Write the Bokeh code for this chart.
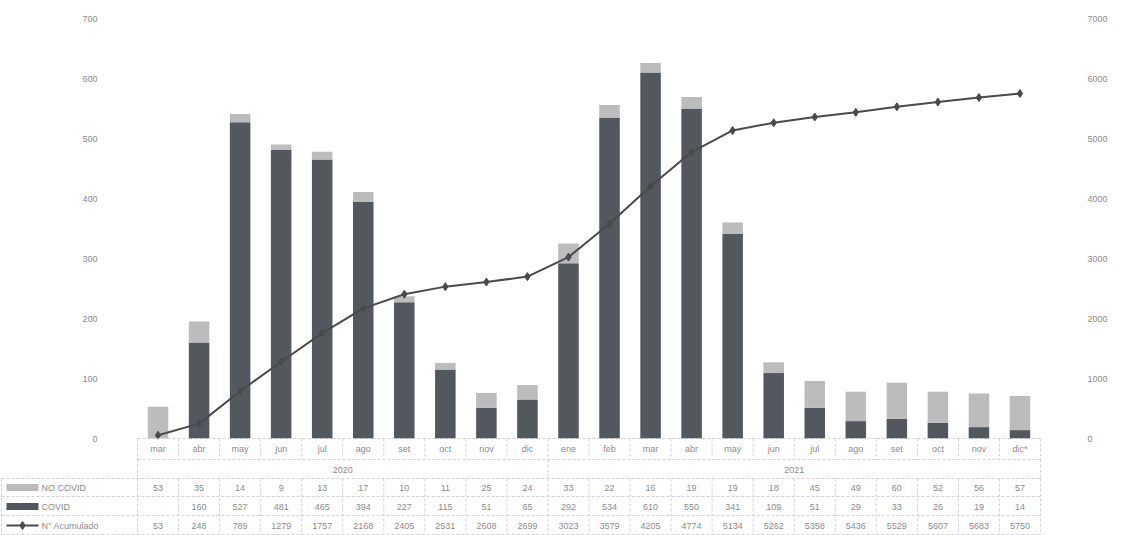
from bokeh.plotting import figure
from bokeh.models import (ColumnDataSource, Range1d, LinearAxis, FixedTicker)
from bokeh.embed import file_html
from bokeh.resources import INLINE
from bokeh.core.properties import value

# ---------------- data ----------------
months = ["mar", "abr", "may", "jun", "jul", "ago", "set", "oct", "nov", "dic",
          "ene", "feb", "mar", "abr", "may", "jun", "jul", "ago", "set", "oct", "nov", "dic*"]
years = ["2020", "2021"]
year_counts = [10, 12]
no_covid = [53, 35, 14, 9, 13, 17, 10, 11, 25, 24,
            33, 22, 16, 19, 19, 18, 45, 49, 60, 52, 56, 57]
covid = [0, 160, 527, 481, 465, 394, 227, 115, 51, 65,
         292, 534, 610, 550, 341, 109, 51, 29, 33, 26, 19, 14]
acumulado = [53, 248, 789, 1279, 1757, 2168, 2405, 2531, 2608, 2699,
             3023, 3579, 4205, 4774, 5134, 5262, 5358, 5436, 5529, 5607, 5683, 5750]
series_names = ["NO COVID", "COVID", "N° Acumulado"]
left_ticks = [0, 100, 200, 300, 400, 500, 600, 700]
right_ticks = [0, 1000, 2000, 3000, 4000, 5000, 6000, 7000]

# ---------------- layout ----------------
W, H = 1115, 535
TBL_L, TBL_R = 137, 1040             # page px of category area
TOP_Y = 18                           # page px (value 700)
ZERO_Y = 438                         # page px (value 0)
PX_PER_UNIT = (ZERO_Y - TOP_Y) / left_ticks[-1]
y_min = -(H - ZERO_Y) / PX_PER_UNIT
y_max = ZERO_Y / PX_PER_UNIT
scale2 = right_ticks[-1] / left_ticks[-1]
n = len(months)
CW = (TBL_R - TBL_L) / n

def yu(py):  # page px -> left axis units
    return (ZERO_Y - py) / PX_PER_UNIT

def xu(px):  # page px -> x units
    return (px - TBL_L) / CW

xs = [i + 0.5 for i in range(n)]

TXT = "#8c8c8c"
LINE = "#d2d2d2"
DARK = "#52585d"
LIGHT = "#bcbcbc"
LC = "#4a4a4a"
FONT = "Liberation Sans"

p = figure(width=W, height=H, output_backend="svg", toolbar_location=None,
           x_range=Range1d(xu(0), xu(W)), y_range=Range1d(y_min, y_max),
           x_axis_location=None,
           min_border_left=0, min_border_right=0,
           min_border_top=0, min_border_bottom=0)
p.outline_line_color = None
p.xgrid.visible = False
p.ygrid.visible = False
p.background_fill_color = "white"

# left axis, pinned at the left edge of the category area
ya = p.yaxis[0]
ya.fixed_location = 0
ya.ticker = FixedTicker(ticks=left_ticks)
ya.axis_line_color = None
ya.major_tick_line_color = None
ya.minor_tick_line_color = None
ya.major_label_standoff = 34
ya.major_label_text_color = TXT
ya.major_label_text_font = FONT
ya.major_label_text_font_size = "9px"

# right axis
p.extra_y_ranges = {"acc": Range1d(y_min * scale2, y_max * scale2)}
ra = LinearAxis(y_range_name="acc", ticker=FixedTicker(ticks=right_ticks))
ra.fixed_location = n
ra.axis_line_color = None
ra.major_tick_line_color = None
ra.minor_tick_line_color = None
ra.major_label_standoff = 41
ra.major_label_text_color = TXT
ra.major_label_text_font = FONT
ra.major_label_text_font_size = "9px"
p.add_layout(ra, "right")

# bars
src = ColumnDataSource(dict(x=xs, covid=covid, no_covid=no_covid, acc=acumulado))
p.vbar_stack(["covid", "no_covid"], x="x", width=0.5, source=src,
             color=[DARK, LIGHT], line_color=None)

# cumulative line
p.line("x", "acc", source=src, y_range_name="acc", line_color=LC, line_width=2)
p.scatter("x", "acc", source=src, y_range_name="acc", marker="diamond", size=8,
          fill_color=LC, line_color=LC)

# ---------------- data table ----------------
rows_py = [ZERO_Y, 459, 478, 496, 515, 534]
row_y = [yu(v) for v in rows_py]
x_left = xu(1)
p.segment(x0=[0, 0] + [x_left] * 4, x1=[n] * 6, y0=row_y, y1=row_y,
          line_color=LINE, line_width=1, line_dash="3 2")
vx = list(range(0, n + 1))
p.segment(x0=vx, x1=vx, y0=[row_y[0]] * len(vx), y1=[row_y[1]] * len(vx),
          line_color=LINE, line_dash="3 2")
p.segment(x0=vx + [x_left], x1=vx + [x_left], y0=[row_y[2]] * (len(vx) + 1),
          y1=[row_y[5]] * (len(vx) + 1), line_color=LINE, line_dash="3 2")
yb = [0]
for c in year_counts:
    yb.append(yb[-1] + c)
p.segment(x0=yb, x1=yb, y0=[row_y[1]] * len(yb), y1=[row_y[2]] * len(yb),
          line_color=LINE, line_dash="3 2")

tstyle = dict(text_color=TXT, text_font=value(FONT), text_font_size="9px",
              text_align="center", text_baseline="middle")
p.text(x=xs, y=[yu(448)] * n, text=months, **tstyle)
yc = [(yb[i] + yb[i + 1]) / 2 for i in range(len(years))]
p.text(x=yc, y=[yu(469)] * len(years), text=years, **tstyle)
row_text_py = [487, 506, 525]
p.text(x=xs, y=[yu(row_text_py[0])] * n, text=[str(v) for v in no_covid], **tstyle)
p.text(x=xs, y=[yu(row_text_py[1])] * n, text=[str(v) if v else "" for v in covid], **tstyle)
p.text(x=xs, y=[yu(row_text_py[2])] * n, text=[str(v) for v in acumulado], **tstyle)

# legend keys in the left column of the table
ky = [yu(v) for v in row_text_py]
p.rect(x=[xu(22), xu(22)], y=ky[:2], width=xu(38) - xu(6), height=7 / PX_PER_UNIT,
       fill_color=[LIGHT, DARK], line_color=None)
p.segment(x0=[xu(6)], x1=[xu(38)], y0=[ky[2]], y1=[ky[2]], line_color=LC, line_width=2)
p.scatter(x=[xu(22)], y=[ky[2]], marker="diamond", size=8, fill_color=LC, line_color=LC)
p.text(x=[xu(41)] * 3, y=ky, text=series_names, text_color=TXT, text_font=value(FONT),
       text_font_size="9px", text_align="left", text_baseline="middle")

open("out.html", "w").write(file_html(p, INLINE))
